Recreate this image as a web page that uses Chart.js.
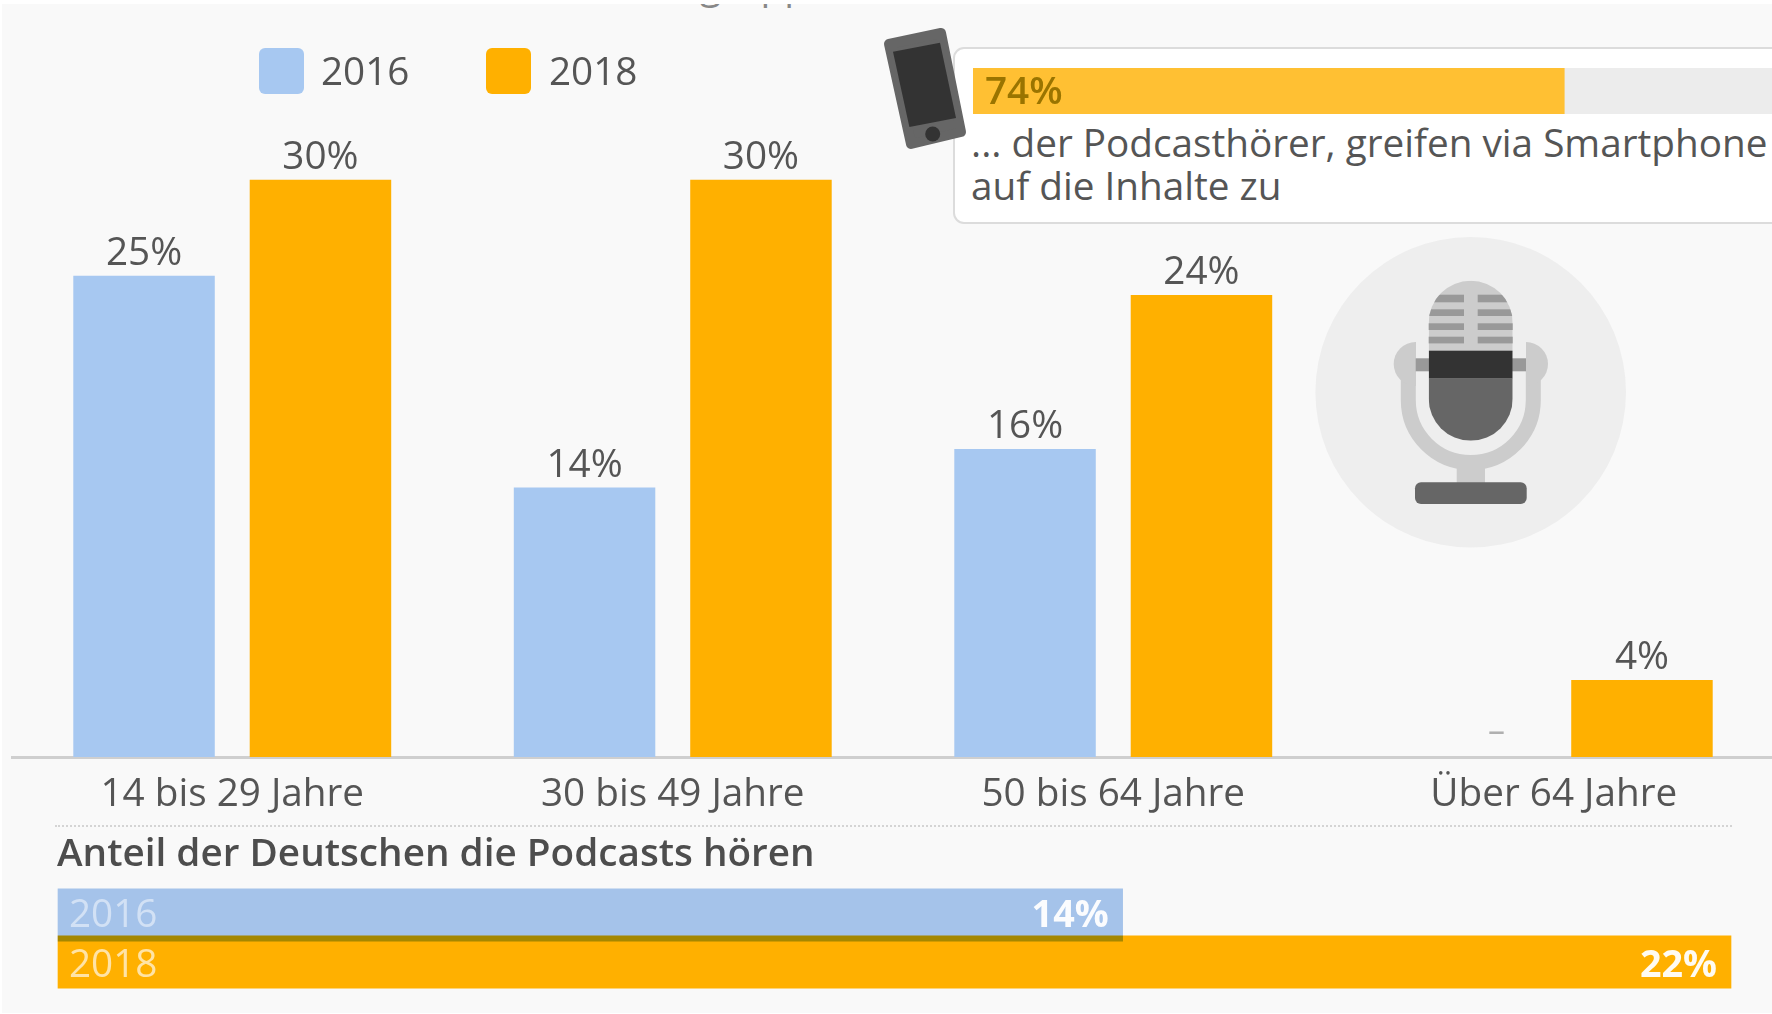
<!DOCTYPE html>
<html lang="de">
<head>
<meta charset="utf-8">
<title>Podcasts</title>
<script src="https://cdn.jsdelivr.net/npm/chart.js@4"></script>
<style>
html, body { margin: 0; padding: 0; background: #fff; overflow: hidden; }
body { width: 1772px; height: 1014px; position: relative; font-family: "Open Sans", sans-serif; color: #555; }
#bg { position: absolute; left: 2px; top: 4px; width: 1770px; height: 1009px; background: #f9f9f9; }
canvas, svg { position: absolute; }
.txt { position: absolute; white-space: nowrap; font-size: 38.7px; line-height: 43px; }
#cut { position: absolute; left: 700px; top: 4px; width: 120px; height: 5px; overflow: hidden; }
#cut div { position: absolute; left: 0; top: -39px; font-size: 38.7px; line-height: 38px; color: #888; }
#callout { position: absolute; left: 953px; top: 47px; width: 840px; height: 177px; box-sizing: border-box; background: #fff; border: 2.5px solid #dcdcdc; border-radius: 11px; }
#dots { position: absolute; left: 55px; top: 825px; width: 1677px; border-top: 2px dotted #d4d4d4; }
.swatch { position: absolute; width: 45px; height: 46px; top: 48px; border-radius: 6px; }
</style>
</head>
<body>
<div id="bg"></div>
<div id="cut"><div>gruppe</div></div>

<!-- Mikrofon -->
<svg width="1772" height="1014" style="left:0;top:0">
  <defs>
    <clipPath id="head"><rect x="1428.7" y="280.7" width="84" height="160" rx="42" ry="42"/></clipPath>
    <clipPath id="arms"><rect x="1380" y="330" width="36" height="60"/><rect x="1526" y="330" width="36" height="60"/></clipPath>
  </defs>
  <circle cx="1470.7" cy="392.3" r="155.3" fill="#eeeeee"/>
  <path d="M1408.3 360 V400 A62.5 62.5 0 0 0 1533.3 400 V360" fill="none" stroke="#cccccc" stroke-width="15"/>
  <g clip-path="url(#arms)">
    <circle cx="1415.7" cy="364" r="22" fill="#cccccc"/>
    <circle cx="1526" cy="364" r="22" fill="#cccccc"/>
  </g>
  <rect x="1415.7" y="358.3" width="110.3" height="13" fill="#999999"/>
  <rect x="1456.7" y="466" width="28.3" height="18" fill="#cccccc"/>
  <rect x="1415" y="482.3" width="111.7" height="21.7" rx="6" fill="#666666"/>
  <g clip-path="url(#head)">
    <rect x="1428.7" y="280.7" width="84" height="71" fill="#cccccc"/>
    <g fill="#999999">
      <rect x="1428" y="294.7" width="36" height="7.6"/><rect x="1477.7" y="294.7" width="36" height="7.6"/>
      <rect x="1428" y="309.3" width="36" height="6.7"/><rect x="1477.7" y="309.3" width="36" height="6.7"/>
      <rect x="1428" y="323.3" width="36" height="6.7"/><rect x="1477.7" y="323.3" width="36" height="6.7"/>
      <rect x="1428" y="336.7" width="36" height="6.7"/><rect x="1477.7" y="336.7" width="36" height="6.7"/>
    </g>
    <rect x="1428.7" y="350.7" width="84" height="28" fill="#333333"/>
    <rect x="1428.7" y="378.7" width="84" height="62" fill="#666666"/>
  </g>
</svg>

<canvas id="mainChart" width="1774" height="830" style="left:0;top:0"></canvas>

<!-- Legende -->
<div class="swatch" style="left:259px;background:#a7c8f1"></div>
<div class="txt" id="leg0" style="left:321px;top:49px"></div>
<div class="swatch" style="left:486px;background:#ffb000"></div>
<div class="txt" id="leg1" style="left:549px;top:49px"></div>

<!-- Kasten Smartphone -->
<div id="callout"></div>
<svg width="1772" height="1014" style="left:0;top:0">
  <polygon points="889,44 941,33 961,132 911,144" fill="#666666" stroke="#666666" stroke-width="10" stroke-linejoin="round"/>
  <polygon points="893,51.7 940,42.7 956,118 909.4,127" fill="#333333"/>
  <circle cx="932.7" cy="134" r="7.5" fill="#333333"/>
</svg>
<canvas id="shareChart" width="799" height="46" style="left:973px;top:68px"></canvas>
<div class="txt" id="noteLine1" style="left:971px;top:121px"></div>
<div class="txt" id="noteLine2" style="left:971px;top:164px"></div>

<div id="dots"></div>
<div class="txt" id="subTitle" style="left:57px;top:830px;font-weight:600;color:#4d4d4d"></div>
<canvas id="totalChart" width="1772" height="120" style="left:0;top:880px"></canvas>

<script>
const categories = ['14 bis 29 Jahre', '30 bis 49 Jahre', '50 bis 64 Jahre', 'Über 64 Jahre'];
const values2016 = [25, 14, 16, null];
const values2018 = [30, 30, 24, 4];
const seriesNames = ['2016', '2018'];
const totalValues2016 = [14, null];
const totalValues2018 = [null, 22];
const smartphoneShare = [74];
const shareScale = [100];
const noteLines = ['... der Podcasthörer, greifen via Smartphone', 'auf die Inhalte zu'];
const totalTitle = 'Anteil der Deutschen die Podcasts hören';

const textColor = '#555555';
const font = '"Open Sans", sans-serif';

document.getElementById('leg0').textContent = seriesNames[0];
document.getElementById('leg1').textContent = seriesNames[1];
document.getElementById('noteLine1').textContent = noteLines[0];
document.getElementById('noteLine2').textContent = noteLines[1];
document.getElementById('subTitle').textContent = totalTitle;

// Prozentwerte ueber den Balken, "–" wenn es keinen Wert gibt
const valueLabels = {
  id: 'valueLabels',
  afterDatasetsDraw(chart) {
    const ctx = chart.ctx;
    ctx.save();
    ctx.textAlign = 'center';
    ctx.textBaseline = 'alphabetic';
    chart.data.datasets.forEach((ds, i) => {
      chart.getDatasetMeta(i).data.forEach((bar, j) => {
        if (ds.data[j] === null) {
          ctx.font = '34px ' + font;
          ctx.fillStyle = '#b0b0b0';
          ctx.fillText('–', bar.x + 31, chart.scales.y.getPixelForValue(0.8));
          return;
        }
        ctx.font = '38.7px ' + font;
        ctx.fillStyle = textColor;
        ctx.fillText(ds.data[j] + '%', bar.x, bar.y - 11);
      });
    });
    ctx.restore();
  }
};

new Chart(document.getElementById('mainChart'), {
  type: 'bar',
  data: {
    labels: categories,
    datasets: [
      { label: seriesNames[0], data: values2016, backgroundColor: '#a7c8f1', categoryPercentage: 0.801, barPercentage: 0.802 },
      { label: seriesNames[1], data: values2018, backgroundColor: '#ffb000', categoryPercentage: 0.801, barPercentage: 0.802 }
    ]
  },
  options: {
    responsive: false,
    animation: false,
    layout: { padding: { left: 12, right: 0, top: 179.5, bottom: 0 } },
    plugins: { legend: { display: false }, tooltip: { enabled: false } },
    scales: {
      y: { display: false, min: 0, max: 30 },
      x: {
        afterFit: scale => { scale.height = 73; },
        grid: { display: false },
        border: { color: '#cfcfcf', width: 3 },
        ticks: { color: textColor, font: { family: font, size: 38.7 }, padding: 7, maxRotation: 0 }
      }
    }
  },
  plugins: [valueLabels]
});

// 74%-Balken im Kasten
new Chart(document.getElementById('shareChart'), {
  type: 'bar',
  data: {
    labels: ['Smartphone'],
    datasets: [
      { data: smartphoneShare, backgroundColor: '#ffc033', grouped: false, barPercentage: 1, categoryPercentage: 1 },
      { data: shareScale, backgroundColor: '#ececec', grouped: false, barPercentage: 1, categoryPercentage: 1 }
    ]
  },
  options: {
    indexAxis: 'y',
    responsive: false,
    animation: false,
    plugins: { legend: { display: false }, tooltip: { enabled: false } },
    scales: { x: { display: false, min: 0, max: 100 }, y: { display: false } }
  },
  plugins: [{
    id: 'shareLabel',
    afterDatasetsDraw(chart) {
      const bar = chart.getDatasetMeta(0).data[0];
      const ctx = chart.ctx;
      ctx.save();
      ctx.font = '600 38.7px ' + font;
      ctx.fillStyle = '#9a7400';
      ctx.textBaseline = 'alphabetic';
      ctx.fillText(smartphoneShare[0] + '%', chart.scales.x.left + 12, bar.y + 13);
      ctx.restore();
    }
  }]
});

// Gesamtanteil unten, der blaue Balken liegt ueber dem orangen
const overlapBlend = {
  id: 'overlapBlend',
  beforeDatasetDraw(chart, args) {
    if (args.index === 0) {
      chart.ctx.save();
      chart.ctx.globalCompositeOperation = 'multiply';
    }
  },
  afterDatasetDraw(chart, args) {
    if (args.index === 0) chart.ctx.restore();
  },
  afterDatasetsDraw(chart) {
    const ctx = chart.ctx;
    const x = chart.scales.x;
    ctx.save();
    ctx.textBaseline = 'alphabetic';
    [totalValues2016, totalValues2018].forEach((vals, i) => {
      const idx = vals.findIndex(v => v !== null);
      const bar = chart.getDatasetMeta(i).data[idx];
      const base = bar.y + (i === 0 ? 12 : 15);
      ctx.font = '38.7px ' + font;
      ctx.textAlign = 'left';
      ctx.fillStyle = i === 0 ? 'rgba(255,255,255,0.5)' : 'rgba(255,255,255,0.65)';
      ctx.fillText(seriesNames[i], x.left + 11, base);
      ctx.font = '700 37.7px ' + font;
      ctx.textAlign = 'right';
      ctx.fillStyle = 'rgba(255,255,255,0.95)';
      ctx.fillText(vals[idx] + '%', x.getPixelForValue(vals[idx]) - 14, base);
    });
    ctx.restore();
  }
};

new Chart(document.getElementById('totalChart'), {
  type: 'bar',
  data: {
    labels: seriesNames,
    datasets: [
      { data: totalValues2016, backgroundColor: '#a5c3ea', grouped: false, barThickness: 52.4, clip: false },
      { data: totalValues2018, backgroundColor: '#ffb000', grouped: false, barThickness: 52.4, clip: false }
    ]
  },
  options: {
    indexAxis: 'y',
    responsive: false,
    animation: false,
    layout: { padding: { left: 58, right: 41, top: 11.5, bottom: 14.5 } },
    plugins: { legend: { display: false }, tooltip: { enabled: false } },
    scales: { x: { display: false, min: 0, max: 22 }, y: { display: false } }
  },
  plugins: [overlapBlend]
});
</script>
</body>
</html>
